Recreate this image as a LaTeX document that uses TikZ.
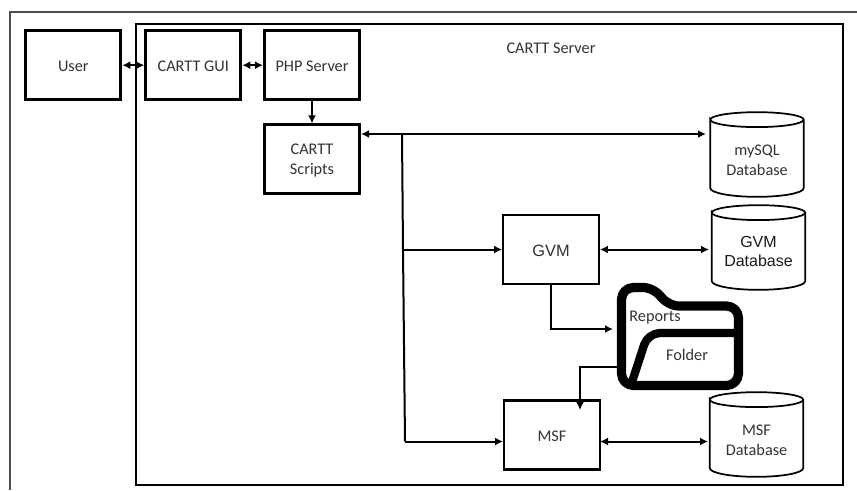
\documentclass[tikz,border=0pt]{standalone}
\usepackage{fontspec}
\setmainfont{Carlito}
\newfontfamily\arialfont{Liberation Sans}
\usetikzlibrary{arrows.meta}
\tikzset{
  x=0.75pt,y=-0.75pt,
  labelfont/.style={font=\fontsize{12.2}{14.6}\selectfont,text=black!80},
  boxlabel/.style={labelfont,align=center,inner sep=0pt,yshift=-1.1pt},
  dblabel/.style={labelfont,align=center,inner sep=0pt,yshift=-4.4pt},
  boxnode/.style={draw=black,line width=2.2pt,minimum width=71.3pt,minimum height=51.6pt,inner sep=0pt},
  thinbox/.style={boxnode,line width=1.8pt,minimum width=71.6pt,minimum height=52pt},
  dbnode/.style={minimum width=70pt,minimum height=63.5pt,inner sep=0pt,outer sep=0pt},
  dbline/.style={draw=black,line width=1.3pt},
  conn/.style={line width=1.5pt,-{Latex[length=6pt,width=6pt]}},
  biconn/.style={line width=1.5pt,{Latex[length=6pt,width=6pt]}-{Latex[length=6pt,width=6pt]}},
  plainconn/.style={line width=1.5pt},
  frameline/.style={line width=1.4pt}
}
\newcommand{\dbshape}[1]{%
  \draw[dbline] ([yshift=-5.6pt]#1.north west) arc[start angle=180,end angle=0,x radius=35pt,y radius=5.6pt]
    arc[start angle=0,end angle=-180,x radius=35pt,y radius=5.6pt]
    -- ([yshift=6.5pt]#1.south west) arc[start angle=180,end angle=360,x radius=35pt,y radius=6.5pt]
    -- ([yshift=-5.6pt]#1.north east);}
\begin{document}
\begin{tikzpicture}
\useasboundingbox (0,0) rectangle (857,490);
\fill[white] (0,0) rectangle (857,490);
\coordinate (outerBL) at (10,490);
\coordinate (outerTL) at (10,12);
\coordinate (outerTR) at (857,12);
\draw[frameline,draw=black!70] (outerBL) -- (outerTL) -- (outerTR);
\node[draw=black,line width=1.7pt,minimum width=530.25pt,minimum height=345.75pt,inner sep=0pt] (server) at (489.5,254.5) {};
\node[labelfont] (servertitle) at (551,48) {CARTT Server};
\node[boxnode,label={[boxlabel,name=userlabel]center:{User}}] (user) at (73.3,65.2) {};
\node[boxnode,label={[boxlabel,name=guilabel]center:{CARTT GUI}}] (gui) at (193.3,65.2) {};
\node[boxnode,label={[boxlabel,name=phplabel]center:{PHP Server}}] (php) at (312,65.2) {};
\node[boxnode,label={[boxlabel,name=scriptslabel]center:{CARTT\\Scripts}}] (scripts) at (312,159.2) {};
\node[thinbox,label={[boxlabel,name=gvmlabel,font=\arialfont\fontsize{12.3}{14}\selectfont]center:{GVM}}] (gvm) at (551,249.5) {};
\node[thinbox,label={[boxlabel,name=msflabel]center:{MSF}}] (msf) at (552,435) {};
\node[dbnode,label={[dblabel,name=mysqllabel]center:{mySQL\\Database}}] (mysql) at (757,154.5) {};
\node[dbnode,label={[dblabel,name=gvmdblabel,yshift=1.6pt,font=\arialfont\fontsize{12}{14}\selectfont,text=black!90]center:{GVM\\Database}}] (gvmdb) at (758.5,247.5) {};
\node[dbnode,label={[dblabel,name=msfdblabel]center:{MSF\\Database}}] (msfdb) at (756.5,434.5) {};
\dbshape{mysql}
\dbshape{gvmdb}
\dbshape{msfdb}
% folder
\draw[line width=6.9pt,line join=round,rounded corners=9pt] (621.5,340) -- (621.5,287.5) -- (655,287.5) -- (667,306) -- (738.5,306) -- (738.5,385.5) -- (621.5,385.5) -- cycle;
\draw[line width=6.2pt,rounded corners=9pt] (631,385) -- (648,333) -- (738,333);
\coordinate (folderin) at (613,329);
\coordinate (folderout) at (618,367);
\node[labelfont] (reports) at (655,318) {Reports};
\node[labelfont] (folder) at (687,355) {Folder};
% connectors
\draw[biconn] (user.east) -- (gui.west);
\draw[biconn] (gui.east) -- (php.west);
\draw[conn] (php.south) -- (scripts.north);
\coordinate (rowtop) at (402,134);
\coordinate (mysqlin) at (706,134);
\draw[biconn] (scripts.east |- rowtop) -- (mysqlin);
\coordinate (gvmbranch) at (403,249.5);
\coordinate (msfbranch) at (405,441.5);
\draw[plainconn] (rowtop) -- (gvmbranch) -- (msfbranch);
\draw[conn] (gvmbranch) -- (gvm.west);
\draw[conn] (msfbranch) -- (msf.west |- msfbranch);
\coordinate (gvmdbin) at (709,249.5);
\draw[biconn] (gvm.east) -- (gvmdbin);
\coordinate (msfr) at (600,441.5);
\coordinate (msfdbin) at (708,441.5);
\draw[biconn] (msfr) -- (msfdbin);
\coordinate (gvmdown) at (551,329);
\draw[conn] (gvm.south) -- (gvmdown) -- (folderin);
\coordinate (msfarrow) at (580,410);
\draw[conn] (folderout) -- (folderout -| msfarrow) -- (msfarrow);
\end{tikzpicture}
\end{document}
